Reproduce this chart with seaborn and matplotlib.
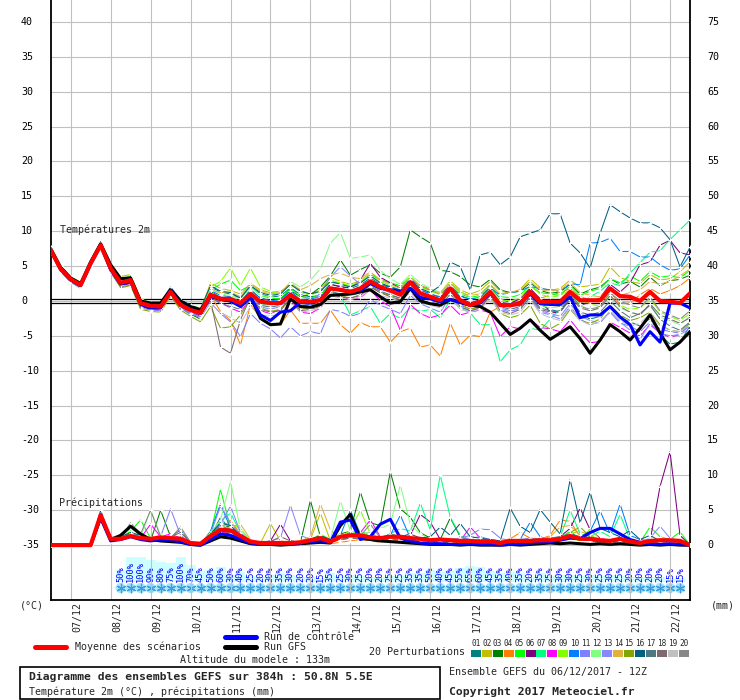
import matplotlib
matplotlib.use('Agg')
import matplotlib.pyplot as plt
import matplotlib.transforms as mtransforms
from matplotlib.lines import Line2D
from matplotlib.patches import Rectangle
import pandas as pd
import seaborn as sns

sns.set_theme(style='white')
plt.rcParams['font.family'] = ['DejaVu Sans Mono', 'DejaVu Sans']

# forecast steps (h) from 06/12/2017 12Z
hours = list(range(0, 385, 6))
day_labels = ['07/12', '08/12', '09/12', '10/12', '11/12', '12/12', '13/12', '14/12',
              '15/12', '16/12', '17/12', '18/12', '19/12', '20/12', '21/12', '22/12']

members = ['01', '02', '03', '04', '05', '06', '07', '08', '09', '10',
           '11', '12', '13', '14', '15', '16', '17', '18', '19', '20']
member_colors = ['#008080', '#c0c000', '#008000', '#ff8000', '#00ff00', '#800080', '#00ff80',
                 '#ff00ff', '#80ff00', '#0080ff', '#8080ff', '#80ff80', '#8888ff', '#e0b040',
                 '#80a800', '#006080', '#507880', '#806870', '#c0c0c0', '#888888']

# temperature 2m (°C)
t_mean = [7.3, 4.6, 3.1, 2.3, 5.4, 8.0, 4.7, 2.6, 3.0, -0.3, -0.7, -0.8, 1.3, -0.6, -1.3, -1.7,
          0.9, 0.3, 0.3, -0.3, 1.0, -0.1, -0.3, -0.3, 0.9, -0.1, -0.1, 0.1, 1.8, 1.6, 1.3, 1.8,
          2.8, 2.0, 1.5, 0.9, 2.7, 1.1, 0.6, 0.1, 1.8, 0.1, -0.6, -0.1, 1.3, -0.6, -0.6, -0.4,
          1.3, -0.1, -0.1, -0.1, 1.3, 0.1, 0.1, 0.1, 1.8, 0.7, 0.6, 0.0, 1.3, 0.0, -0.1, -0.3, 1.1]
t_gfs = [7.5, 4.8, 3.3, 2.5, 5.6, 8.2, 5.2, 3.2, 3.3, 0.0, -0.3, -0.3, 1.6, 0.0, -0.8, -1.3,
         0.8, 0.2, 0.0, -0.5, 0.6, -2.5, -3.4, -3.3, 0.3, -0.8, -0.9, -0.5, 0.8, 0.9, 1.0, 1.3,
         1.6, 0.6, -0.3, -0.1, 1.8, 0.0, -0.4, -0.6, 0.2, -0.2, -0.6, -0.8, -1.6, -3.2, -4.8, -3.9,
         -2.7, -4.2, -5.5, -4.6, -3.7, -5.4, -7.5, -5.6, -3.4, -4.4, -5.6, -3.9, -2.0, -4.6, -7.0, -5.9, -4.4]
t_ctrl = [7.3, 4.5, 3.0, 2.2, 5.3, 8.0, 4.5, 2.4, 2.8, -0.5, -1.0, -1.0, 1.5, -0.5, -1.2, -1.8,
          0.6, 0.4, 0.0, -0.8, 0.5, -2.0, -2.8, -1.6, -1.4, -0.2, -0.3, 0.2, 1.8, 1.6, 1.4, 1.5,
          2.5, 1.8, 1.6, 1.4, 1.8, 0.5, 0.3, -0.1, 0.2, -0.2, -0.6, -0.3, 1.1, -0.5, -0.7, -0.2,
          1.0, -0.4, -0.5, -0.5, 0.6, -2.4, -2.0, -2.0, -0.8, -2.3, -3.4, -6.3, -4.4, -5.9, -0.3, -0.3, -1.0]

t01 = [7.6, 4.8, 3.2, 2.4, 5.5, 8.1, 4.6, 2.4, 2.7, -0.5, -0.8, -0.5, 1.6, -0.2, -0.8, -1.2,
       2.0, 1.3, 1.0, 0.4, 2.1, 1.0, 0.6, 0.7, 1.9, 0.9, 0.6, 0.8, 2.4, 2.1, 1.8, 2.3,
       3.3, 2.4, 1.9, 1.2, 3.0, 1.6, 1.0, 0.5, 2.2, 0.8, 0.2, 0.6, 2.0, 0.3, -0.2, 0.2,
       1.8, -0.5, -1.2, -1.6, 0.4, -1.8, -2.6, -2.2, -0.9, -2.4, -3.0, -3.6, -2.5, -4.8, -6.2, -5.9, -3.6]
t02 = [7.2, 4.5, 3.0, 2.5, 5.6, 8.2, 5.2, 3.5, 3.8, 0.2, -0.4, -0.3, 1.5, 0.0, -0.9, -1.4,
       2.6, 1.8, 1.5, 1.0, 2.5, 1.6, 1.2, 1.4, 2.3, 1.5, 1.0, 1.6, 3.4, 2.8, 2.4, 2.9,
       4.0, 3.1, 2.6, 2.0, 3.5, 2.2, 1.7, 1.2, 2.9, 1.6, 1.0, 1.5, 2.8, 1.4, 1.1, 1.7,
       3.2, 1.9, 1.5, 1.8, 3.0, 2.0, 2.2, 2.4, 4.9, 3.4, 2.8, 2.5, 3.8, 3.0, 3.2, 4.2, 5.6]
t03 = [7.0, 4.4, 2.9, 2.0, 5.3, 7.9, 4.5, 2.3, 2.6, -0.6, -1.1, -1.2, 1.0, -1.0, -1.9, -2.6,
       1.4, 0.5, 0.2, -0.2, 1.6, 0.4, 0.1, 0.3, 1.5, 0.6, 0.9, 2.0, 3.6, 5.9, 3.7, 4.5,
       5.2, 4.0, 3.4, 4.9, 10.2, 9.2, 8.3, 4.4, 4.2, 3.5, 2.3, 2.0, 3.1, 1.6, 1.2, 1.4,
       2.6, 1.5, 1.1, 1.3, 2.4, 1.0, 1.6, 2.0, 3.2, 2.4, 2.8, 2.0, 3.4, 2.2, 2.9, 3.1, 3.7]
t04 = [7.4, 4.7, 3.0, 2.2, 5.4, 8.0, 4.4, 2.5, 3.1, -0.2, -0.8, -0.9, 1.2, -0.7, -1.5, -2.0,
       0.8, -1.5, -2.8, -6.3, -0.5, -2.5, -3.4, -3.4, -1.3, -3.2, -3.2, -3.2, -1.3, -3.4, -4.6, -3.1,
       -3.7, -3.7, -5.9, -4.4, -3.9, -6.6, -6.3, -7.9, -3.2, -6.3, -4.9, -5.1, -1.6, -0.8, -0.5, 0.2,
       1.6, 0.4, 0.8, 1.2, 1.8, 0.6, 0.2, -0.2, 1.2, -0.4, -0.3, 0.9, 1.8, 1.0, 1.5, 2.2, 3.3]
t05 = [7.5, 4.9, 3.3, 2.6, 5.7, 8.3, 5.0, 2.9, 3.4, 0.0, -0.5, -0.6, 1.7, -0.3, -1.1, -1.6,
       1.6, 2.4, 3.0, 1.5, 2.2, 0.8, 0.4, 0.3, 1.8, 0.6, 0.4, 0.9, 2.6, 2.6, 2.0, 2.6,
       3.8, 3.0, 2.6, 2.2, 3.4, 2.0, 1.5, 1.0, 2.6, 1.0, 0.5, 0.8, 2.3, 0.6, 0.5, 0.9,
       2.2, 1.2, 1.0, 0.8, 2.2, 0.8, 1.4, 1.8, 3.2, 2.6, 3.6, 2.8, 4.2, 3.4, 3.6, 3.3, 4.4]
t06 = [7.1, 4.3, 2.8, 1.9, 5.2, 7.8, 4.3, 2.2, 2.5, -0.8, -1.2, -1.0, 1.1, -0.8, -1.6, -2.2,
       1.0, 0.5, 0.4, -0.4, 1.2, 0.0, -0.5, -0.4, 1.0, -0.2, 0.0, 0.3, 2.4, 2.0, 1.9, 3.0,
       5.4, 3.4, 2.6, 1.8, 3.0, 2.2, 1.6, 0.9, 2.2, 0.4, -0.3, 0.2, 1.6, -0.2, -0.4, 0.4,
       1.8, 0.3, -1.7, -1.6, 0.9, -0.6, -0.2, 0.5, 2.4, 1.3, 2.6, 5.2, 5.6, 8.0, 8.7, 6.9, 6.6]
t07 = [7.3, 4.6, 3.2, 2.4, 5.5, 8.1, 4.8, 2.7, 3.0, -0.4, -0.9, -1.0, 1.2, -0.5, -1.2, -1.8,
       1.2, 0.3, 0.2, -0.8, 0.8, -0.5, -0.6, -0.3, 1.2, -0.8, -1.0, -0.4, 1.5, 0.8, -2.0, -1.4,
       -0.8, -3.2, -1.8, -2.5, -0.9, -1.5, -1.2, -2.4, 0.2, -1.0, -1.7, -3.4, -3.4, -8.7, -7.0, -6.3,
       -3.9, -4.2, -2.6, -1.2, 0.8, -0.4, 0.6, 1.4, 2.6, 2.2, 4.0, 5.5, 7.0, 7.2, 8.8, 10.2, 11.6]
t08 = [7.2, 4.5, 3.1, 2.1, 5.3, 8.0, 4.6, 2.6, 2.9, -0.3, -0.6, -0.7, 1.4, -0.6, -1.4, -1.9,
       0.6, -0.2, -1.0, -1.6, 0.4, -1.4, -1.8, -1.2, 0.2, -1.6, -1.8, -1.0, 1.0, 0.6, 0.2, 0.5,
       1.6, 0.0, -0.8, -4.2, -0.5, -1.8, -2.4, -2.0, -0.6, -2.0, -1.6, -1.3, -1.7, -5.1, -3.7, -4.0,
       -2.6, -3.8, -4.0, -4.4, -2.7, -4.5, -6.0, -5.8, -3.0, -3.8, -4.6, -5.0, -3.4, -4.6, -5.2, -4.8, -3.2]
t09 = [7.8, 5.0, 3.4, 2.7, 5.8, 8.4, 5.3, 3.2, 3.6, 0.3, -0.2, -0.4, 1.8, 0.1, -0.7, -1.0,
       2.0, 2.8, 4.7, 2.2, 4.7, 2.0, 1.4, 1.0, 2.5, 1.2, 0.8, 1.4, 3.0, 2.6, 2.2, 2.8,
       3.6, 2.8, 2.2, 1.6, 3.6, 2.0, 1.4, 0.9, 2.8, 1.4, 0.6, 0.4, 1.8, 0.2, 0.0, 0.4,
       2.2, 1.0, 0.5, 0.8, 1.6, 0.2, -0.4, -0.8, 0.6, -0.6, -1.2, -1.0, 0.4, -1.6, -2.2, -2.8, -1.8]
t10 = [7.4, 4.6, 3.1, 2.3, 5.4, 8.0, 4.7, 2.7, 3.1, -0.2, -0.5, -0.9, 1.3, -0.5, -1.2, -1.5,
       1.5, 0.8, 0.6, -0.2, 1.6, 0.4, 0.0, 0.2, 1.4, 0.2, 0.3, 0.6, 2.0, 1.6, 1.4, 2.1,
       3.0, 2.4, 2.0, 1.6, 3.2, 1.6, 1.0, 0.6, 2.0, 0.6, 0.3, 0.5, 1.8, 0.9, 1.2, 1.4,
       2.1, 1.8, 1.6, 1.4, 2.5, 2.3, 8.3, 8.4, 9.0, 7.1, 7.1, 6.3, 6.3, 5.2, 4.4, 4.6, 6.6]
t11 = [7.0, 4.2, 2.7, 1.8, 5.0, 7.7, 4.1, 2.0, 2.3, -1.0, -1.3, -1.4, 0.9, -1.1, -1.8, -2.4,
       -0.2, -1.8, -3.0, -5.1, -1.8, -3.2, -4.0, -5.3, -3.7, -5.0, -4.4, -4.7, -1.2, -1.5, -2.2, -1.8,
       0.2, -0.6, -1.2, -1.8, 0.8, -0.4, -1.0, -1.6, 0.6, -0.8, -1.5, -1.0, 0.8, -1.2, -1.6, -0.9,
       0.4, -1.6, -2.0, -2.6, -0.8, -2.6, -3.4, -3.0, -1.6, -3.2, -3.6, -4.4, -3.0, -4.0, -4.4, -4.6, -3.6]
t12 = [7.5, 4.8, 3.3, 2.5, 5.6, 8.2, 4.9, 2.8, 3.3, -0.1, -0.4, -0.5, 1.6, -0.2, -0.9, -1.3,
       1.8, 1.0, 0.8, 0.2, 2.0, 0.8, 0.6, 1.0, 2.8, 2.0, 3.0, 4.6, 8.3, 9.8, 6.1, 6.3,
       6.6, 4.4, 3.2, 2.4, 3.8, 2.6, 1.8, 1.2, 2.8, 1.2, 0.6, 0.3, 1.6, -0.2, -0.8, -0.5,
       1.0, -0.6, -1.0, -0.8, 1.2, -0.5, -1.4, -1.0, 0.8, -1.0, -1.6, -2.0, -0.6, -2.4, -2.8, -3.4, -2.2]
t13 = [7.2, 4.4, 2.9, 2.1, 5.2, 7.9, 4.4, 2.3, 2.8, -0.6, -1.0, -1.1, 1.0, -0.9, -1.7, -2.3,
       1.2, 0.4, 0.2, -0.6, 0.8, -0.8, -1.2, -0.8, 0.6, -0.8, -0.4, 1.2, 3.4, 4.9, 3.6, 2.4,
       2.8, 1.8, 1.2, 0.8, 2.2, 0.6, 0.0, -0.6, 1.4, -0.6, -1.2, -0.8, 0.9, -1.0, -1.4, -1.2,
       0.6, -1.4, -1.8, -2.2, -0.4, -2.2, -2.8, -3.2, -1.4, -3.0, -4.2, -5.5, -3.2, -4.6, -5.0, -4.8, -4.0]
t14 = [7.4, 4.7, 3.2, 2.4, 5.5, 8.1, 4.8, 2.7, 3.2, -0.2, -0.6, -0.6, 1.4, -0.4, -1.1, -1.6,
       1.6, 1.2, 1.3, 0.6, 2.4, 1.4, 1.0, 1.2, 2.6, 1.6, 2.2, 3.2, 3.8, 4.0, 3.4, 3.2,
       4.2, 3.0, 2.4, 1.8, 3.4, 2.2, 1.6, 1.0, 2.6, 1.2, 0.8, 1.0, 2.4, 1.0, 1.2, 1.6,
       2.8, 1.6, 1.4, 1.6, 2.6, 1.2, 0.8, 0.6, 2.0, 0.8, 1.2, 1.6, 2.8, 2.4, 2.8, 3.6, 4.6]
t15 = [6.9, 4.2, 2.8, 2.0, 5.1, 7.8, 4.2, 1.9, 2.2, -1.2, -1.5, -1.6, 0.7, -1.3, -2.2, -3.0,
       -0.8, -3.9, -3.7, -2.0, 0.4, -1.0, -1.5, -1.2, 0.6, -1.2, -1.0, -0.6, 1.2, 0.8, 0.4, 0.9,
       2.0, 1.2, 0.8, 0.4, 2.4, 0.6, 0.2, -0.4, 1.4, -0.4, -1.2, -0.8, 0.6, -1.8, -2.4, -2.0,
       -0.6, -3.2, -4.0, -3.2, -1.2, -2.8, -3.2, -2.6, -0.6, -2.0, -2.8, -2.4, -1.6, -3.4, -4.2, -4.4, -3.2]
t16 = [7.6, 5.0, 3.4, 2.6, 5.8, 8.5, 5.1, 3.0, 3.5, 0.1, -0.3, -0.2, 2.0, 0.2, -0.6, -1.1,
       2.2, 1.4, 1.2, 0.4, 2.2, 1.2, 0.8, 1.0, 2.4, 1.4, 1.0, 1.4, 2.8, 2.4, 2.0, 2.6,
       3.6, 2.6, 2.0, 1.5, 3.0, 1.8, 1.2, 2.2, 5.6, 4.9, 1.6, 6.6, 7.0, 5.2, 6.3, 9.2,
       9.7, 10.2, 12.5, 12.5, 8.3, 6.9, 4.7, 9.7, 13.8, 12.8, 11.9, 11.2, 11.2, 10.5, 8.8, 4.9, 7.7]
t17 = [7.3, 4.5, 3.0, 2.2, 5.3, 8.0, 4.6, 2.5, 2.9, -0.4, -0.8, -0.9, 1.2, -0.7, -1.4, -1.9,
       0.6, -0.4, -0.8, -1.2, 1.0, -0.6, -0.9, -0.6, 0.8, -0.6, -0.6, -0.2, 1.4, 1.0, 0.8, 1.2,
       2.2, 1.4, 0.9, 0.4, 2.0, 0.6, 0.2, -0.3, 1.4, -0.3, -0.8, -0.4, 1.0, -0.8, -1.2, -0.8,
       0.8, -1.0, -1.4, -1.6, 0.2, -1.6, -2.0, -1.6, 0.0, -1.4, -2.4, -1.8, -0.6, -2.6, -3.6, -4.2, -3.0]
t18 = [7.1, 4.4, 2.9, 2.0, 5.2, 7.9, 4.5, 2.4, 2.8, -0.5, -0.9, -1.0, 1.1, -0.8, -1.5, -2.0,
       0.1, -6.6, -7.5, -2.7, 0.6, -1.2, -1.6, -1.4, 0.4, -1.4, -1.2, -0.8, 1.0, 0.6, 0.4, 0.8,
       2.0, 1.2, 0.6, 0.2, 1.6, 0.2, -0.4, -0.8, 1.0, -0.8, -1.4, -1.0, 0.8, -1.4, -1.8, -1.2,
       0.6, -1.2, -1.6, -1.4, 0.6, -1.0, -1.4, -1.0, 0.8, -0.8, -1.6, -2.0, -0.4, -2.0, -2.6, -3.2, -2.4]
t19 = [7.3, 4.6, 3.0, 2.3, 5.4, 8.0, 4.6, 2.5, 2.9, -0.5, -0.9, -1.0, 1.2, -0.7, -1.4, -1.9,
       -0.4, -1.6, -2.4, -3.2, -0.8, -2.0, -2.2, -1.8, -0.2, -1.6, -1.4, -1.0, 0.8, 0.4, 0.2, 0.6,
       1.6, 0.8, 0.4, 0.0, 1.2, -0.2, -0.6, -1.0, 0.6, -1.2, -1.6, -1.2, 0.4, -1.6, -2.0, -1.6,
       0.2, -1.8, -2.4, -2.8, -1.0, -2.8, -3.4, -3.0, -1.4, -2.8, -3.6, -3.2, -1.8, -3.6, -4.2, -4.4, -3.4]
t20 = [7.4, 4.7, 3.2, 2.4, 5.5, 8.1, 4.8, 2.8, 3.1, -0.2, -0.7, -0.7, 1.4, -0.5, -1.2, -1.8,
       1.0, 0.2, 0.0, -0.6, 1.4, 0.0, -0.4, -0.2, 1.2, -0.2, -0.2, 0.2, 1.8, 1.4, 1.2, 1.6,
       2.6, 1.8, 1.4, 0.8, 2.6, 1.0, 0.4, 0.0, 1.8, 0.0, -0.4, 0.0, 1.4, -0.4, -0.6, -0.2,
       1.2, -0.4, -0.6, -0.8, 1.0, -0.8, -1.2, -0.8, 1.2, 0.0, -0.6, -1.0, 0.6, -1.4, -2.0, -2.6, -1.4]

# precipitation (mm / 6h)
r_mean = [0, 0, 0, 0, 0, 4.3, 0.9, 0.9, 1.3, 1.0, 0.9, 1.1, 1.0, 0.9, 0.3, 0.2,
          1.3, 2.2, 2.1, 1.3, 0.5, 0.3, 0.3, 0.3, 0.3, 0.4, 0.7, 1.0, 0.5, 1.2, 1.4, 1.4,
          1.1, 1.0, 1.2, 1.2, 1.0, 0.9, 0.7, 0.8, 0.7, 0.6, 0.6, 0.5, 0.5, 0.3, 0.6, 0.6,
          0.6, 0.7, 0.7, 0.9, 1.3, 0.9, 0.9, 0.7, 0.6, 0.9, 0.5, 0.3, 0.6, 0.7, 0.7, 0.6, 0.0]
r_gfs = [0, 0, 0, 0, 0, 4.0, 0.8, 1.4, 2.7, 1.6, 0.8, 0.6, 0.5, 0.4, 0.1, 0.0,
         0.6, 1.2, 1.0, 0.6, 0.2, 0.1, 0.1, 0.0, 0.1, 0.2, 0.3, 0.4, 0.3, 2.8, 4.4, 1.0,
         0.8, 0.6, 0.5, 0.4, 0.3, 0.2, 0.1, 0.1, 0.1, 0.0, 0.1, 0.0, 0.0, 0.0, 0.1, 0.0,
         0.1, 0.2, 0.3, 0.2, 0.3, 0.2, 0.1, 0.2, 0.1, 0.2, 0.1, 0.0, 0.1, 0.0, 0.1, 0.0, 0.0]
r_ctrl = [0, 0, 0, 0, 0, 3.9, 0.6, 0.8, 1.2, 0.8, 0.6, 0.8, 0.7, 0.5, 0.1, 0.0,
          0.8, 1.6, 1.4, 0.8, 0.3, 0.1, 0.1, 0.1, 0.2, 0.3, 0.5, 0.6, 0.4, 3.3, 3.6, 0.8,
          1.2, 3.0, 3.7, 1.0, 0.6, 0.3, 0.2, 0.2, 0.1, 0.1, 0.2, 0.1, 0.1, 0.0, 0.1, 0.2,
          0.3, 0.4, 0.5, 0.7, 1.0, 0.9, 1.8, 2.4, 2.4, 1.6, 0.8, 0.4, 0.2, 0.1, 0.2, 0.1, 0.0]

r01 = [0, 0, 0, 0, 0, 4.2, 0.6, 0.8, 1.4, 1.0, 0.6, 0.8, 0.9, 0.5, 0.1, 0.0,
       1.2, 4.0, 2.0, 1.0, 0.3, 0.1, 0.2, 0.1, 0.2, 0.3, 0.6, 1.0, 0.4, 1.2, 1.8, 1.0,
       0.8, 0.6, 1.2, 0.6, 0.8, 0.4, 0.3, 0.5, 0.3, 0.2, 0.4, 0.3, 0.2, 0.1, 0.4, 0.3,
       0.5, 0.6, 0.4, 0.8, 1.5, 0.8, 0.6, 0.4, 0.3, 0.6, 0.2, 0.1, 0.4, 0.3, 0.5, 0.4, 0]
r02 = [0, 0, 0, 0, 0, 3.8, 0.8, 1.0, 1.8, 1.2, 0.8, 1.5, 1.0, 1.2, 0.2, 0.1,
       1.0, 2.2, 1.6, 1.2, 0.4, 0.3, 3.1, 0.6, 0.4, 0.2, 0.8, 4.6, 0.6, 0.8, 1.2, 1.6,
       1.0, 0.8, 1.2, 1.4, 0.6, 0.8, 0.4, 0.6, 0.4, 0.6, 0.8, 0.3, 0.4, 0.2, 0.3, 0.5,
       0.4, 0.8, 0.6, 1.2, 1.6, 2.0, 1.4, 0.8, 0.4, 0.8, 0.3, 0.2, 0.6, 0.4, 0.8, 0.6, 0]
r03 = [0, 0, 0, 0, 0, 4.5, 0.8, 1.2, 2.5, 1.4, 0.6, 5.0, 1.2, 0.6, 0.2, 0.1,
       1.4, 3.0, 2.6, 1.4, 0.5, 0.2, 0.3, 0.2, 0.3, 0.4, 6.4, 1.2, 0.8, 1.6, 2.0, 7.6,
       3.2, 2.8, 10.5, 5.2, 4.0, 1.8, 1.0, 0.8, 3.9, 1.2, 0.6, 0.5, 0.4, 0.3, 0.6, 0.4,
       0.6, 0.8, 1.0, 0.6, 1.2, 0.8, 1.0, 0.6, 0.4, 0.8, 0.3, 0.2, 0.5, 0.6, 0.4, 0.5, 0]
r04 = [0, 0, 0, 0, 0, 4.0, 0.6, 0.8, 1.2, 0.8, 0.6, 0.9, 1.4, 0.8, 0.2, 0.1,
       1.0, 2.4, 3.5, 1.6, 0.6, 0.3, 0.2, 0.2, 0.2, 0.3, 0.5, 0.8, 0.2, 0.4, 0.6, 0.8,
       0.6, 0.4, 0.8, 0.6, 0.5, 0.4, 0.2, 0.3, 0.2, 0.3, 0.4, 0.6, 0.8, 0.6, 0.9, 1.8,
       1.0, 0.8, 1.4, 3.6, 3.4, 1.2, 0.6, 0.4, 0.8, 1.0, 0.4, 0.2, 0.3, 0.2, 0.6, 0.4, 0]
r05 = [0, 0, 0, 0, 0, 4.4, 0.9, 1.0, 2.0, 3.6, 1.0, 1.2, 0.8, 1.0, 0.3, 0.2,
       1.6, 8.0, 2.4, 1.2, 0.4, 0.3, 0.2, 0.3, 0.4, 0.3, 0.8, 1.4, 0.6, 1.4, 1.6, 2.0,
       1.2, 0.8, 1.4, 1.0, 1.2, 0.8, 0.6, 0.4, 1.0, 0.6, 0.4, 0.8, 0.6, 0.3, 0.5, 0.4,
       0.6, 0.5, 0.8, 1.0, 2.0, 0.8, 1.2, 0.6, 0.4, 0.6, 0.8, 0.4, 2.6, 1.2, 0.8, 1.9, 0]
r06 = [0, 0, 0, 0, 0, 3.9, 0.7, 1.1, 1.6, 1.2, 0.8, 1.0, 0.9, 0.7, 0.2, 0.1,
       0.8, 1.8, 1.6, 0.8, 0.4, 0.3, 0.6, 3.0, 0.6, 0.4, 0.3, 0.6, 0.4, 0.8, 1.0, 1.2,
       0.8, 0.6, 1.0, 0.8, 1.4, 4.4, 3.3, 0.8, 0.6, 0.4, 0.3, 0.4, 0.6, 0.3, 0.4, 0.5,
       0.6, 0.8, 0.5, 1.2, 2.4, 5.3, 2.2, 1.0, 0.6, 0.8, 0.4, 0.3, 0.6, 8.4, 13.4, 1.4, 0]
r07 = [0, 0, 0, 0, 0, 4.1, 0.6, 0.9, 1.8, 1.4, 0.6, 0.8, 1.0, 0.8, 0.2, 0.1,
       1.8, 3.4, 4.6, 1.8, 0.5, 0.2, 0.3, 0.2, 0.3, 0.2, 0.6, 1.0, 0.4, 1.0, 1.4, 1.2,
       1.4, 1.0, 1.6, 2.4, 2.0, 6.0, 2.2, 10.0, 4.0, 1.4, 0.8, 0.6, 0.4, 0.3, 0.5, 0.4,
       0.8, 0.6, 0.8, 1.2, 5.0, 1.6, 1.2, 2.0, 1.2, 4.4, 0.8, 0.4, 0.6, 0.3, 0.4, 0.5, 0]
r08 = [0, 0, 0, 0, 0, 3.6, 0.8, 1.0, 1.4, 1.0, 3.0, 1.2, 1.6, 1.0, 0.2, 0.1,
       1.2, 2.0, 1.6, 0.8, 0.3, 0.2, 0.3, 0.2, 0.4, 0.3, 0.6, 0.8, 0.6, 1.0, 1.4, 1.8,
       3.6, 1.2, 0.8, 1.0, 0.6, 0.5, 0.4, 0.3, 0.4, 0.6, 2.6, 1.0, 0.6, 0.4, 0.3, 0.5,
       0.4, 0.6, 0.8, 0.9, 1.4, 1.0, 0.6, 0.5, 0.4, 0.5, 0.3, 0.2, 0.4, 0.3, 0.5, 0.4, 0]
r09 = [0, 0, 0, 0, 0, 4.3, 0.7, 0.9, 1.6, 1.2, 0.8, 1.0, 1.2, 0.8, 0.3, 0.2,
       1.4, 2.6, 3.0, 2.4, 0.6, 0.3, 0.2, 0.3, 0.4, 0.5, 0.7, 1.6, 0.8, 1.0, 2.2, 5.0,
       1.6, 1.0, 1.2, 0.8, 1.0, 0.6, 0.5, 0.4, 0.6, 0.4, 0.3, 0.5, 0.4, 0.2, 0.3, 0.4,
       0.5, 0.4, 0.6, 0.8, 1.0, 0.6, 2.4, 0.8, 0.5, 0.6, 0.4, 0.3, 0.6, 0.4, 0.3, 0.4, 0]
r10 = [0, 0, 0, 0, 0, 4.0, 0.7, 1.0, 1.4, 1.0, 0.6, 0.8, 1.0, 0.7, 0.2, 0.1,
       2.0, 5.9, 2.4, 1.2, 0.4, 0.2, 0.3, 0.2, 0.3, 0.4, 0.8, 1.0, 0.6, 1.4, 5.0, 1.6,
       1.2, 1.0, 1.4, 4.3, 1.0, 0.8, 0.6, 0.5, 0.4, 0.6, 0.5, 0.8, 0.6, 0.4, 0.6, 0.8,
       3.3, 1.2, 0.8, 1.0, 1.6, 1.2, 2.0, 4.9, 1.6, 5.9, 1.4, 0.8, 0.6, 0.4, 0.5, 0.6, 0]
r11 = [0, 0, 0, 0, 0, 3.7, 0.8, 1.2, 1.6, 1.4, 1.0, 1.2, 5.2, 1.4, 0.3, 0.2,
       1.6, 5.6, 3.2, 1.4, 0.6, 0.3, 0.2, 0.3, 0.5, 0.4, 0.6, 1.0, 0.6, 1.2, 1.6, 1.4,
       1.0, 0.8, 1.2, 1.0, 0.8, 0.6, 0.5, 0.6, 0.8, 1.0, 1.4, 2.3, 2.2, 1.0, 0.6, 0.8,
       1.0, 0.8, 0.6, 1.0, 1.4, 1.0, 0.8, 0.6, 0.5, 0.6, 0.4, 0.3, 0.6, 0.8, 0.5, 0.4, 0]
r12 = [0, 0, 0, 0, 0, 4.2, 0.6, 0.8, 1.5, 1.2, 5.0, 1.4, 1.0, 0.8, 0.2, 0.1,
       1.8, 3.6, 9.1, 2.2, 0.6, 0.3, 0.2, 0.3, 0.4, 0.3, 0.6, 1.2, 0.8, 6.3, 2.0, 1.8,
       1.8, 2.4, 3.0, 8.6, 3.0, 1.6, 0.8, 0.6, 0.8, 0.6, 0.4, 0.6, 0.5, 0.3, 0.4, 0.6,
       0.6, 0.8, 0.5, 0.8, 1.2, 0.9, 0.8, 0.6, 0.4, 0.6, 0.3, 0.2, 0.5, 0.4, 0.6, 0.4, 0]
r13 = [0, 0, 0, 0, 0, 3.9, 0.7, 1.0, 1.3, 1.0, 0.8, 1.0, 1.2, 0.9, 0.2, 0.1,
       1.2, 3.0, 5.6, 1.8, 0.5, 0.4, 0.6, 1.0, 5.7, 1.4, 0.8, 1.2, 0.6, 1.0, 1.2, 1.0,
       0.8, 0.6, 1.0, 0.8, 0.6, 0.5, 0.4, 0.5, 0.6, 0.8, 1.0, 1.2, 0.8, 0.6, 0.4, 0.5,
       0.6, 1.0, 0.8, 1.2, 1.4, 1.0, 0.8, 0.7, 0.6, 0.8, 0.5, 0.4, 1.0, 2.7, 1.0, 0.6, 0]
r14 = [0, 0, 0, 0, 0, 4.0, 0.8, 1.1, 1.6, 1.3, 0.8, 1.1, 1.0, 0.8, 0.2, 0.1,
       1.4, 2.2, 2.6, 3.0, 0.8, 0.4, 0.3, 0.2, 0.4, 0.6, 1.2, 5.9, 2.2, 1.0, 1.4, 1.2,
       1.0, 0.8, 1.2, 1.0, 0.8, 0.6, 0.5, 0.4, 0.4, 0.5, 0.6, 0.4, 0.5, 0.3, 0.4, 0.6,
       0.8, 0.9, 1.2, 2.6, 2.8, 1.4, 0.8, 0.6, 0.5, 0.8, 0.4, 0.3, 0.5, 0.4, 0.6, 0.5, 0]
r15 = [0, 0, 0, 0, 0, 3.8, 0.6, 0.9, 1.2, 1.0, 0.6, 0.9, 0.8, 0.6, 0.1, 0.1,
       1.0, 2.4, 2.0, 1.0, 0.4, 0.2, 0.2, 0.2, 0.3, 0.3, 0.6, 0.8, 0.5, 0.9, 1.2, 1.0,
       0.8, 0.6, 1.0, 0.8, 0.6, 0.5, 0.3, 0.4, 0.3, 0.4, 0.5, 0.4, 0.3, 0.2, 0.4, 0.4,
       0.6, 0.5, 0.8, 1.0, 1.8, 2.6, 1.2, 0.6, 0.4, 0.6, 0.3, 0.2, 0.4, 0.3, 0.4, 0.3, 0]
r16 = [0, 0, 0, 0, 0, 5.0, 1.0, 1.2, 1.8, 1.4, 1.0, 1.2, 1.0, 0.8, 0.3, 0.2,
       1.6, 3.2, 2.8, 1.4, 0.6, 0.4, 0.3, 0.4, 0.5, 0.4, 0.8, 1.4, 0.8, 1.2, 1.6, 1.4,
       1.2, 1.0, 1.6, 1.2, 1.6, 1.0, 1.2, 2.6, 1.4, 3.1, 1.2, 1.0, 0.8, 0.6, 5.3, 2.7,
       1.8, 5.1, 3.3, 1.6, 9.4, 3.2, 7.6, 2.4, 1.8, 1.2, 2.1, 0.8, 1.4, 0.6, 0.8, 0.5, 0]
r17 = [0, 0, 0, 0, 0, 4.1, 0.8, 1.0, 1.6, 1.2, 0.8, 1.0, 1.1, 2.2, 0.3, 0.1,
       1.2, 2.8, 2.2, 1.2, 0.5, 0.3, 0.2, 0.3, 0.4, 0.5, 0.8, 1.0, 0.7, 1.1, 1.4, 1.2,
       1.0, 0.8, 1.2, 0.9, 1.0, 0.7, 0.6, 0.5, 0.5, 0.6, 0.4, 0.6, 0.5, 0.4, 0.5, 0.6,
       0.8, 0.9, 1.0, 1.2, 1.6, 1.2, 1.0, 0.8, 0.6, 0.9, 0.5, 0.4, 0.8, 0.6, 0.5, 0.6, 0]
r18 = [0, 0, 0, 0, 0, 3.9, 0.8, 1.0, 1.4, 1.2, 0.8, 1.0, 1.2, 1.8, 0.4, 0.2,
       1.0, 2.0, 1.8, 1.0, 0.4, 0.3, 0.5, 1.2, 0.6, 0.4, 0.6, 0.8, 0.5, 0.8, 1.0, 0.9,
       0.8, 0.6, 0.9, 0.8, 0.7, 0.5, 0.4, 0.4, 0.4, 0.5, 0.4, 0.3, 0.4, 0.3, 0.5, 0.4,
       0.5, 0.6, 0.8, 0.9, 1.2, 0.9, 0.7, 0.6, 0.5, 0.7, 0.4, 0.3, 0.6, 0.5, 0.4, 0.3, 0]
r19 = [0, 0, 0, 0, 0, 4.2, 0.9, 1.1, 1.5, 1.3, 0.9, 1.0, 1.0, 0.8, 0.3, 0.2,
       1.3, 2.4, 2.0, 1.3, 0.5, 0.3, 0.3, 0.3, 0.4, 0.4, 0.7, 1.0, 0.6, 1.0, 1.3, 1.1,
       2.0, 0.8, 1.1, 0.9, 0.8, 0.6, 0.5, 0.5, 0.5, 0.5, 0.4, 0.5, 0.4, 0.3, 0.4, 0.5,
       0.6, 0.8, 0.9, 1.0, 1.3, 1.0, 0.8, 0.7, 0.5, 0.8, 0.4, 0.3, 0.6, 0.5, 0.4, 0.4, 0]
r20 = [0, 0, 0, 0, 0, 4.0, 0.8, 1.0, 3.2, 1.6, 5.0, 1.2, 1.0, 2.6, 0.4, 0.2,
       1.4, 2.6, 2.2, 1.4, 0.6, 0.4, 0.3, 0.3, 0.5, 0.4, 0.8, 1.1, 0.7, 1.2, 1.5, 1.3,
       3.0, 1.0, 1.3, 1.0, 0.9, 0.7, 0.6, 0.6, 0.6, 0.7, 0.5, 0.6, 0.5, 0.4, 0.5, 0.6,
       0.7, 0.9, 1.0, 1.2, 1.5, 1.1, 0.9, 0.8, 0.6, 0.9, 0.5, 0.4, 0.7, 0.6, 0.5, 0.5, 0]

# snow probability (%) from +42h to +378h
snow_pct = [50, 100, 100, 90, 80, 75, 100, 70, 45, 50, 60, 30, 40, 25, 20, 30, 35, 30, 20, 20,
            15, 35, 25, 30, 25, 20, 20, 25, 25, 35, 35, 50, 40, 45, 55, 65, 60, 45, 35, 40,
            35, 20, 35, 25, 30, 30, 25, 30, 25, 30, 25, 20, 20, 20, 20, 15, 15]
snow_hours = hours[7:64]

temps = [t01, t02, t03, t04, t05, t06, t07, t08, t09, t10,
         t11, t12, t13, t14, t15, t16, t17, t18, t19, t20]
rains = [r01, r02, r03, r04, r05, r06, r07, r08, r09, r10,
         r11, r12, r13, r14, r15, r16, r17, r18, r19, r20]
rows = []
for m, tv, rv in zip(members, temps, rains):
    for h, a, b in zip(hours, tv, rv):
        rows.append((m, h, a, b))
pert = pd.DataFrame(rows, columns=['member', 'hour', 'temp', 'rain'])
palette = dict(zip(members, member_colors))

W, H = 740, 700


def fx(x):
    return x / W


def fy(y):
    return 1 - y / H


fig = plt.figure(figsize=(7.4, 7.0), dpi=100)
fig.patch.set_facecolor('white')

ax = fig.add_axes([fx(50.7), fy(600), (690 - 50.7) / W, 600 / H])
ax3 = fig.add_axes([fx(50.7), fy(600), (690 - 50.7) / W, 45 / H])
ax.set_zorder(2)
ax.patch.set_visible(False)
ax3.set_zorder(1)

ylo, yhi = -42.87, 43.15
ax.set_xlim(0, 384)
ax.set_ylim(ylo, yhi)
ax2 = ax.twinx()
ax2.set_ylim(ylo + 35, yhi + 35)
ax2.set_zorder(3)

grid_c = '#c0c0c0'
for v in range(-35, 45, 5):
    ax.axhline(v, color=grid_c, lw=0.8, zorder=0)
day_hours = [12 + 24 * k for k in range(len(day_labels))]
for h in day_hours:
    ax.axvline(h, color=grid_c, lw=0.8, zorder=0)
ax.axhline(0.22, color='black', lw=0.9, zorder=1)
ax.axhline(-0.22, color='black', lw=0.9, zorder=1)

# temperature
sns.lineplot(data=pert, x='hour', y='temp', hue='member', hue_order=members, palette=palette,
             estimator=None, sort=False, lw=0.75, marker='+', markersize=3, mew=0.7,
             legend=False, ax=ax, zorder=3)
sns.lineplot(x=hours, y=t_gfs, color='black', lw=2.2, ax=ax, zorder=4)
sns.lineplot(x=hours, y=t_ctrl, color='#0000ff', lw=2.2, ax=ax, zorder=5)
sns.lineplot(x=hours, y=t_mean, color='#ff0000', lw=3.0, ax=ax, zorder=6)

# precipitation on right scale
sns.lineplot(data=pert, x='hour', y='rain', hue='member', hue_order=members, palette=palette,
             estimator=None, sort=False, lw=0.75, marker='+', markersize=3, mew=0.7,
             legend=False, ax=ax2, zorder=3)
sns.lineplot(x=hours, y=r_gfs, color='black', lw=2.2, ax=ax2, zorder=4)
sns.lineplot(x=hours, y=r_ctrl, color='#0000ff', lw=2.2, ax=ax2, zorder=5)
sns.lineplot(x=hours, y=r_mean, color='#ff0000', lw=3.0, ax=ax2, zorder=6)

for a in (ax, ax2):
    a.set_xlabel('')
    a.set_ylabel('')
    a.set_xticks([])
    a.set_yticks([])
    for s in a.spines.values():
        s.set_visible(False)
for s in ('left', 'right', 'bottom'):
    ax.spines[s].set_visible(True)
    ax.spines[s].set_color('black')
    ax.spines[s].set_linewidth(1.3)
ax.set_xlim(0, 384)

# snow strip
ax3.set_xlim(0, 384)
ax3.set_ylim(-72, 108)
ax3.axis('off')
ax3.bar(snow_hours, snow_pct, width=6, bottom=0, color='#ccffff', lw=0)
ax3.scatter(snow_hours, [-24] * len(snow_hours), s=55, color='#a6e6fa', edgecolors='none')
ax3.scatter(snow_hours, [-24] * len(snow_hours), s=38, marker=(6, 2, 0), color='#3c9ee0',
            linewidths=0.9)
for h, p in zip(snow_hours, snow_pct):
    ax3.text(h, -2, f'{p}%', rotation=90, ha='center', va='bottom', color='#0000ff',
             fontsize=6.2)

fs = 7.2
tr_left = mtransforms.blended_transform_factory(fig.transFigure, ax.transData)
for v in range(-35, 45, 5):
    ax.text(fx(21), v, str(v), transform=tr_left, ha='left', va='center', fontsize=fs,
            color='black', clip_on=False)
tr_right = mtransforms.blended_transform_factory(fig.transFigure, ax2.transData)
for v in range(0, 80, 5):
    ax2.text(fx(707), v, str(v), transform=tr_right, ha='left', va='center', fontsize=fs,
             color='black', clip_on=False)

tr_bottom = mtransforms.blended_transform_factory(ax.transData, fig.transFigure)
for h, lab in zip(day_hours, day_labels):
    ax.text(h + 4, fy(602), lab, transform=tr_bottom, rotation=90, ha='center', va='top',
            fontsize=fs, clip_on=False)

ax.text(fx(60), 10.25, 'Températures 2m', transform=tr_left, ha='left', va='center',
        fontsize=fs)
ax.text(fx(59), -28.9, 'Précipitations', transform=tr_left, ha='left', va='center',
        fontsize=fs)

fig.text(fx(20), fy(606), '(°C)', ha='left', va='center', fontsize=fs)
fig.text(fx(711), fy(606), '(mm)', ha='left', va='center', fontsize=fs)

# legend block
fig.add_artist(Line2D([fx(35), fx(66)], [fy(647), fy(647)], color='#ff0000', lw=3.6))
fig.text(fx(75), fy(647), 'Moyenne des scénarios', ha='left', va='center', fontsize=fs)
fig.add_artist(Line2D([fx(225), fx(256)], [fy(637), fy(637)], color='#0000ff', lw=3.6))
fig.text(fx(264), fy(637), 'Run de contrôle', ha='left', va='center', fontsize=fs)
fig.add_artist(Line2D([fx(225), fx(256)], [fy(647), fy(647)], color='black', lw=3.6))
fig.text(fx(264), fy(647), 'Run GFS', ha='left', va='center', fontsize=fs)
fig.text(fx(180), fy(660), 'Altitude du modele : 133m', ha='left', va='center', fontsize=fs)

fig.text(fx(369), fy(652), '20 Perturbations', ha='left', va='center', fontsize=fs)
for k, (m, c) in enumerate(zip(members, member_colors)):
    x0 = 470.7 + k * 10.96
    fig.add_artist(Rectangle((fx(x0), fy(657)), 10 / W, 7 / H, transform=fig.transFigure,
                             facecolor=c, edgecolor='none'))
    fig.text(fx(x0 + 5), fy(643), m, ha='center', va='center', fontsize=5.6)

fig.add_artist(Rectangle((fx(20), fy(699)), 420 / W, 32 / H, transform=fig.transFigure,
                         fill=False, edgecolor='black', lw=1.2))
fig.text(fx(29), fy(677), 'Diagramme des ensembles GEFS sur 384h : 50.8N 5.5E',
         ha='left', va='center', fontsize=8.2, fontweight='bold')
fig.text(fx(29), fy(692), 'Température 2m (°C) , précipitations (mm)',
         ha='left', va='center', fontsize=fs)
fig.text(fx(449), fy(672), 'Ensemble GEFS du 06/12/2017 - 12Z', ha='left', va='center',
         fontsize=fs)
fig.text(fx(449), fy(692), 'Copyright 2017 Meteociel.fr', ha='left', va='center',
         fontsize=8.2, fontweight='bold')

fig.savefig('out.png', dpi=100, facecolor='white')
